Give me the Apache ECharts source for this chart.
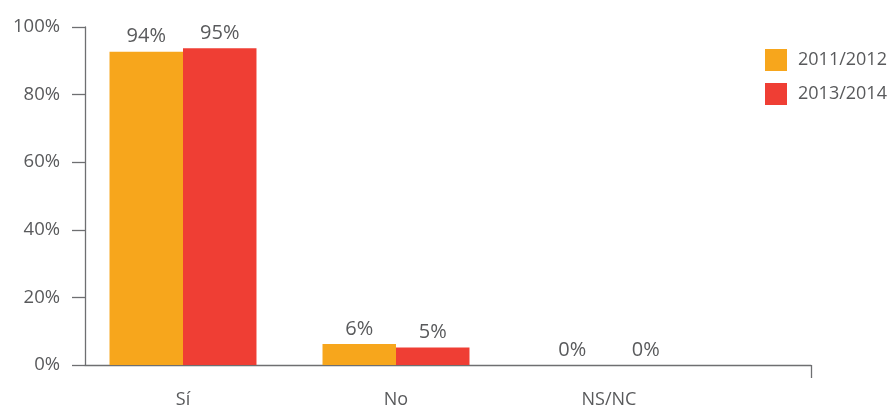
<!DOCTYPE html>
<html>
<head>
<meta charset="utf-8">
<script src="https://cdn.jsdelivr.net/npm/echarts@6/dist/echarts.min.js"></script>
<style>
html,body{margin:0;padding:0;background:#fff;}
#chart{width:894px;height:409px;}
</style>
</head>
<body>
<div id="chart"></div>
<script>
var categories = ['Sí', 'No', 'NS/NC'];
var seriesNames = ['2011/2012', '2013/2014'];
var values2011 = [92.7, 6.2, 0];
var values2013 = [93.7, 5.2, 0];
var labels2011 = ['94%', '6%', '0%'];
var labels2013 = ['95%', '5%', '0%'];
var yTicks = [0, 20, 40, 60, 80, 100];

var textColor = '#595A5C';
var axisColor = '#6E6F71';
var font = '"Open Sans", "Noto Sans", sans-serif';

var chart = echarts.init(document.getElementById('chart'));
chart.setOption({
  animation: false,
  backgroundColor: '#fff',
  textStyle: { fontFamily: font },
  color: ['#F7A61C', '#EF3E34'],
  legend: {
    orient: 'vertical',
    left: 765,
    top: 49,
    padding: 0,
    itemWidth: 22,
    itemHeight: 22,
    itemGap: 12,
    icon: 'rect',
    textStyle: { color: textColor, fontSize: 18, fontFamily: font, padding: [0, 0, 0, 6] },
    data: seriesNames
  },
  grid: [
    { left: 85, right: 83, top: 27, bottom: 44 },
    { left: 76.5, right: 178.5, top: 27, bottom: 44 }
  ],
  xAxis: [
    {
      gridIndex: 0, type: 'value', min: 0, max: 1, interval: 1,
      axisLine: { show: true, lineStyle: { color: axisColor, width: 1.3 } },
      axisTick: { show: true, length: 13, customValues: [1], lineStyle: { color: axisColor, width: 1.3 } },
      axisLabel: { show: false },
      splitLine: { show: false }
    },
    {
      gridIndex: 1, type: 'category', data: categories,
      axisLine: { show: false }, axisTick: { show: false },
      axisLabel: { color: textColor, fontSize: 18, margin: 26, fontFamily: font },
      splitLine: { show: false }
    }
  ],
  yAxis: [
    {
      gridIndex: 0, type: 'value', min: yTicks[0], max: yTicks[yTicks.length - 1], interval: 20,
      axisLine: { show: true, lineStyle: { color: axisColor, width: 1.3 } },
      axisTick: { show: true, length: 13, lineStyle: { color: axisColor, width: 1.3 } },
      axisLabel: { color: textColor, fontSize: 18.5, margin: 25, formatter: '{value}%', fontFamily: font },
      splitLine: { show: false }
    },
    {
      gridIndex: 1, type: 'value', min: 0, max: 100, show: false
    }
  ],
  series: [
    {
      name: seriesNames[0], type: 'bar', xAxisIndex: 1, yAxisIndex: 1,
      data: values2011, barGap: '0%', barCategoryGap: '31%',
      label: {
        show: true, position: 'top', distance: 5, color: textColor, fontSize: 20, fontFamily: font,
        formatter: function (p) { return labels2011[p.dataIndex]; }
      }
    },
    {
      name: seriesNames[1], type: 'bar', xAxisIndex: 1, yAxisIndex: 1,
      data: values2013, barGap: '0%', barCategoryGap: '31%',
      label: {
        show: true, position: 'top', distance: 5, color: textColor, fontSize: 20, fontFamily: font,
        formatter: function (p) { return labels2013[p.dataIndex]; }
      }
    }
  ]
});
</script>
</body>
</html>
